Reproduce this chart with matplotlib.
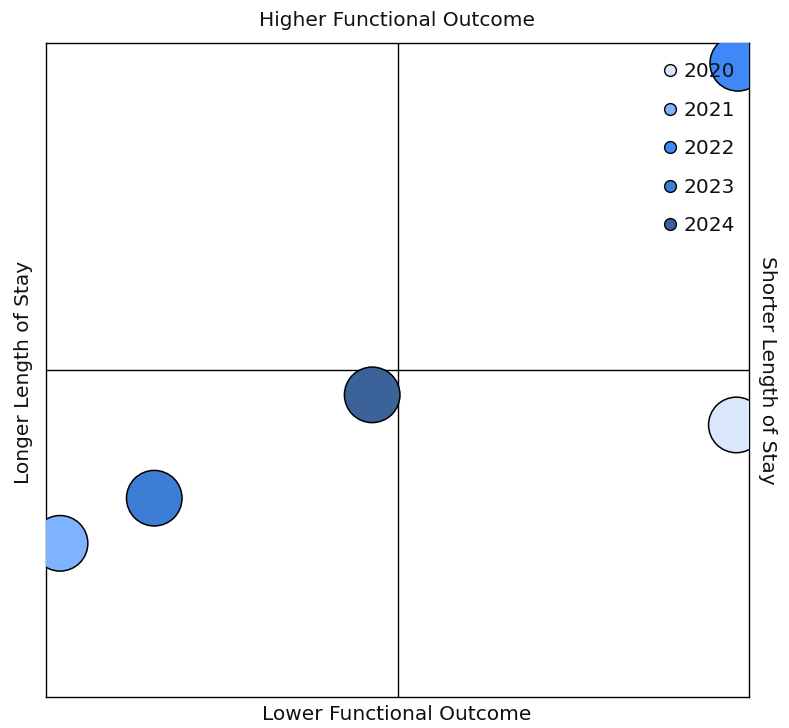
import matplotlib
matplotlib.use("Agg")
import matplotlib.pyplot as plt
from matplotlib.lines import Line2D

# ── Data ─────────────────────────────────────────────────────────────────────
years = ["2020", "2021", "2022", "2023", "2024"]
functional = [98.2, 2.0, 98.4, 15.4, 46.4]      # x: functional outcome
length_of_stay = [41.6, 23.5, 96.9, 30.4, 46.2]  # y: shorter stay is higher
colors = ["#d9e6fb", "#80b3ff", "#3e89f7", "#3d7dd6", "#3c6399"]

plt.rcParams["font.family"] = ["DejaVu Sans"]

fig = plt.figure(figsize=(7.89, 7.28), dpi=100)
ax = fig.add_axes([46 / 789, 31 / 728, 703 / 789, 654 / 728])

ax.scatter(functional, length_of_stay, s=1600, c=colors,
           edgecolors="black", linewidths=1.1, zorder=3)

ax.axvline(50, color="black", linewidth=1.0, zorder=1)
ax.axhline(50, color="black", linewidth=1.0, zorder=1)
ax.set_xlim(0, 100)
ax.set_ylim(0, 100)
ax.set_xticks([])
ax.set_yticks([])
for sp in ax.spines.values():
    sp.set_linewidth(1.0)

fs = 14.5
fig.text(397 / 789, 1 - 20 / 728, "Higher Functional Outcome",
         ha="center", va="center", fontsize=fs, color="#111111")
fig.text(397 / 789, 1 - 714 / 728, "Lower Functional Outcome",
         ha="center", va="center", fontsize=fs, color="#111111")
fig.text(24 / 789, 1 - 372 / 728, "Longer Length of Stay",
         ha="center", va="center", rotation=90, fontsize=fs, color="#111111")
fig.text(768 / 789, 1 - 370 / 728, "Shorter Length of Stay",
         ha="center", va="center", rotation=270, fontsize=fs, color="#111111")

handles = [Line2D([], [], marker="o", linestyle="none", markersize=8.5,
                  markerfacecolor=c, markeredgecolor="black",
                  markeredgewidth=1.0) for c in colors]
leg = ax.legend(handles, years, loc="upper right", bbox_to_anchor=(0.991, 0.983),
                frameon=False, fontsize=fs, handletextpad=0.1,
                labelspacing=0.97, handlelength=1.1, borderaxespad=0)
for t in leg.get_texts():
    t.set_color("#111111")

fig.savefig("out.png", dpi=100)
